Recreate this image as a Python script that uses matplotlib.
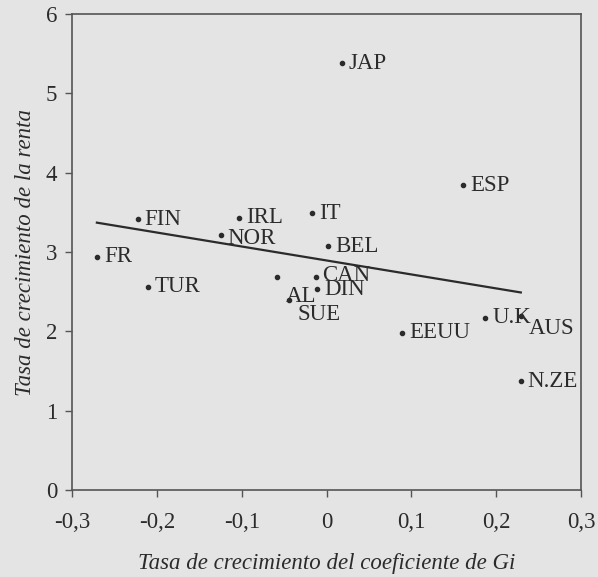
import matplotlib
matplotlib.use("Agg")
import matplotlib.pyplot as plt

# values
countries = ["JAP", "ESP", "IT", "IRL", "FIN", "NOR", "BEL", "FR", "TUR",
             "AL", "SUE", "CAN", "DIN", "U.K", "AUS", "EEUU", "N.ZE"]
gini_growth = [0.018, 0.161, -0.017, -0.103, -0.223, -0.125, 0.002, -0.271, -0.211,
               -0.058, -0.044, -0.013, -0.011, 0.187, 0.229, 0.089, 0.229]
income_growth = [5.38, 3.84, 3.49, 3.43, 3.41, 3.21, 3.07, 2.94, 2.56,
                 2.68, 2.40, 2.69, 2.53, 2.17, 2.19, 1.98, 1.37]

# fitted trend line (end points)
fit_x = [-0.271, 0.229]
fit_y = [3.37, 2.49]

x_ticks = [-0.3, -0.2, -0.1, 0, 0.1, 0.2, 0.3]
x_tick_labels = ["-0,3", "-0,2", "-0,1", "0", "0,1", "0,2", "0,3"]
y_ticks = [0, 1, 2, 3, 4, 5, 6]

# label offsets in points (dx, dy), default is right of the dot
offsets = {
    "AL": (6, -14),
    "SUE": (6, -11),
    "AUS": (6, -9),
    "CAN": (5, 1),
    "NOR": (5, -2),
}

bg = "#e4e4e4"
ink = "#2b2b2b"
plt.rcParams["font.family"] = ["Liberation Serif", "DejaVu Serif"]

fig = plt.figure(figsize=(5.98, 5.77), dpi=100, facecolor=bg)
ax = fig.add_axes([0.1209, 0.1508, 0.8507, 0.8249], facecolor=bg)

ax.scatter(gini_growth, income_growth, s=9, color=ink, zorder=3)
ax.plot(fit_x, fit_y, color=ink, lw=1.6)

for name, gx, iy in zip(countries, gini_growth, income_growth):
    dx, dy = offsets.get(name, (5, 0))
    ax.annotate(name, (gx, iy), xytext=(dx, dy), textcoords="offset points",
                ha="left", va="center", fontsize=16.5, color=ink,
                annotation_clip=False)

ax.set_xlim(-0.3, 0.3)
ax.set_ylim(0, 6)
ax.set_xticks(x_ticks)
ax.set_xticklabels(x_tick_labels)
ax.set_yticks(y_ticks)
ax.tick_params(direction="out", length=5, width=1, color="#555555",
               labelsize=16.5, labelcolor=ink, pad=6)
ax.tick_params(axis="x", pad=11)
for s in ax.spines.values():
    s.set_color("#555555")
    s.set_linewidth(1.2)

ax.set_xlabel("Tasa de crecimiento del coeficiente de Gi", fontsize=16.5,
              style="italic", color=ink, labelpad=14)
ax.set_ylabel("Tasa de crecimiento de la renta", fontsize=16.5,
              style="italic", color=ink, labelpad=7)

# text past the right frame is cut off in the original
for t in ax.texts:
    t.set_clip_on(True)

fig.savefig("out.png", dpi=100, facecolor=bg)
